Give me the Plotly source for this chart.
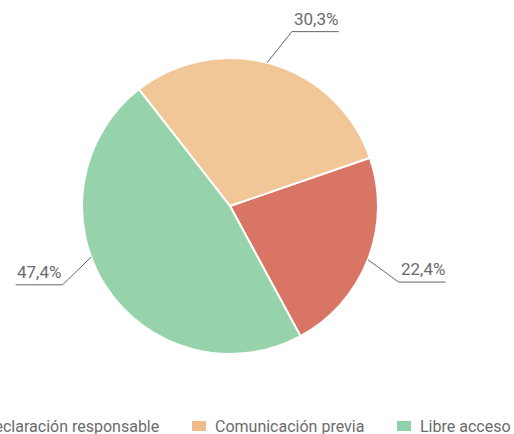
import math
import plotly.graph_objects as go

# ---- data ----
labels = ["Declaración responsable", "Comunicación previa", "Libre acceso"]
values = [22.4, 30.3, 47.4]
value_text = ["22,4%", "30,3%", "47,4%"]
slice_colors = ["#D97564", "#F2C797", "#96D3AA"]
legend_colors = ["#D5705F", "#EFB98A", "#8FD2A9"]

# ---- layout geometry (pixels) ----
W, H = 514, 434
CX, CY, R = 230, 206, 148
ROTATION = 71
TEXT_COLOR = "#6b6b6b"
FONT = "Roboto"
# small angular nudges of the leader lines (start, elbow), degrees
line_start_nudge = [0, -2, 13]
line_elbow_nudge = [3, 3, 8]


def px(x):
    return x / W


def py(y):
    return 1 - y / H


fig = go.Figure(
    go.Pie(
        labels=labels,
        values=values,
        marker=dict(colors=slice_colors, line=dict(color="white", width=2)),
        sort=False,
        direction="counterclockwise",
        rotation=ROTATION,
        textinfo="none",
        hoverinfo="label+percent",
        showlegend=False,
        domain=dict(x=[px(CX - R), px(CX + R)], y=[py(CY + R), py(CY - R)]),
    )
)

shapes = []
annotations = []

# leader lines + value labels, computed from the data (same angle rules as plotly's pie)
total = sum(values)
angle = ROTATION + values[0] / total * 360
for i, (v, txt) in enumerate(zip(values, value_text)):
    span = v / total * 360
    mid = angle - span / 2
    angle -= span
    a0 = math.radians(mid + line_start_nudge[i])
    a1 = math.radians(mid + line_elbow_nudge[i])
    sx, sy = CX + R * math.sin(a0), CY - R * math.cos(a0)
    ex, ey = CX + 1.25 * R * math.sin(a1), CY - 1.25 * R * math.cos(a1)
    side = 1 if math.sin(a1) >= 0 else -1
    hx = ex + side * 47
    shapes.append(dict(type="line", xref="paper", yref="paper",
                       x0=px(sx), y0=py(sy), x1=px(ex), y1=py(ey),
                       line=dict(color="#666666", width=1)))
    shapes.append(dict(type="line", xref="paper", yref="paper",
                       x0=px(ex), y0=py(ey), x1=px(hx), y1=py(ey),
                       line=dict(color="#666666", width=1)))
    annotations.append(dict(
        x=px(hx + side * 1), y=py(ey - 1), xref="paper", yref="paper",
        xanchor="right" if side > 0 else "left", yanchor="bottom",
        text=txt, showarrow=False,
        font=dict(family=FONT, size=17, color=TEXT_COLOR),
    ))

# legend (drawn manually so it keeps a single row like the reference)
legend_text_right = [161, None, None]
legend_marker_left = [None, 192, 397]
LEG_Y = 426
for i, (lab, col) in enumerate(zip(labels, legend_colors)):
    if legend_marker_left[i] is not None:
        mx = legend_marker_left[i]
        shapes.append(dict(type="rect", xref="paper", yref="paper",
                           x0=px(mx), x1=px(mx + 14), y0=py(LEG_Y + 5), y1=py(LEG_Y - 5),
                           fillcolor=col, line=dict(width=0)))
        annotations.append(dict(x=px(mx + 21), y=py(LEG_Y), xref="paper", yref="paper",
                                xanchor="left", yanchor="middle", text=lab, showarrow=False,
                                font=dict(family=FONT, size=16, color=TEXT_COLOR)))
    else:
        annotations.append(dict(x=px(legend_text_right[i]), y=py(LEG_Y), xref="paper", yref="paper",
                                xanchor="right", yanchor="middle", text=lab, showarrow=False,
                                font=dict(family=FONT, size=16, color=TEXT_COLOR)))

fig.update_layout(
    width=W, height=H,
    margin=dict(l=0, r=0, t=0, b=0),
    paper_bgcolor="white", plot_bgcolor="white",
    shapes=shapes, annotations=annotations,
    font=dict(family=FONT, color=TEXT_COLOR),
)

fig.write_html(
    "out.html",
    config={"displayModeBar": False},
    post_script="document.body.style.margin='0px';document.body.style.overflow='hidden';",
)
